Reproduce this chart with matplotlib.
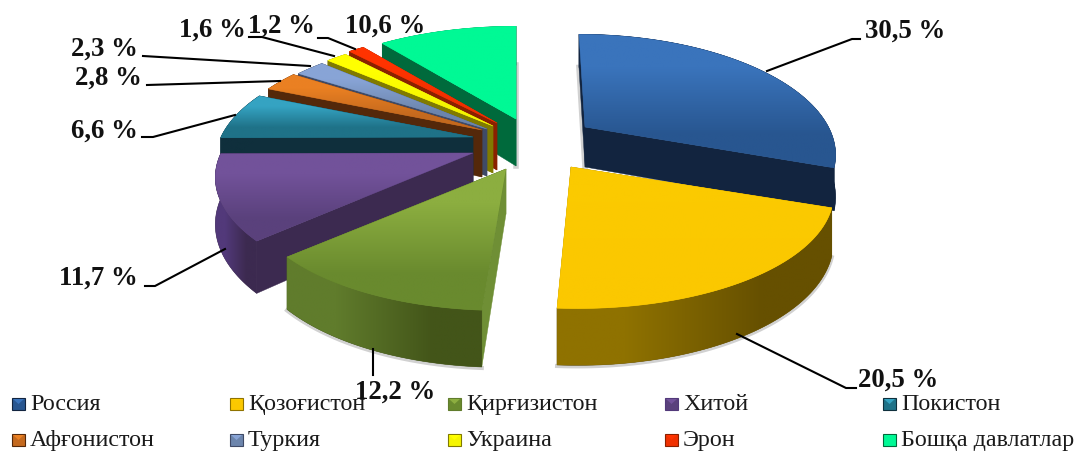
import numpy as np
import matplotlib
matplotlib.use('Agg')
import matplotlib.pyplot as plt
from matplotlib.patches import Polygon, Rectangle
from matplotlib.colors import to_rgb

# Chart data
countries = ['Россия', 'Қозоғистон', 'Қирғизистон', 'Хитой', 'Покистон',
             'Афғонистон', 'Туркия', 'Украина', 'Эрон', 'Бошқа давлатлар']
shares = [30.5, 20.5, 12.2, 11.7, 6.6, 2.8, 2.3, 1.6, 1.2, 10.6]
labels = ['30,5 %', '20,5 %', '12,2 %', '11,7 %', '6,6 %',
          '2,8 %', '2,3 %', '1,6 %', '1,2 %', '10,6 %']

# Styles, top gradient (upper, lower), wall, outer side (left, right)
top_hi = ['#3a74bc', '#fbca00', '#8cae40', '#72529a', '#35a3c2',
          '#ea8022', '#88a4d6', '#ffff00', '#ff3300', '#00f995']
top_lo = ['#285690', '#fbc800', '#698a2e', '#5a417c', '#1f7288',
          '#c4691e', '#6c85ac', '#f5f500', '#f03000', '#00f995']
walls = ['#12243f', '#6a5300', '#6f8f35', '#3c2a50', '#0f2f3c',
         '#54280a', '#3f4a66', '#807a00', '#8a2000', '#006a3c']
side_l = ['#12243f', '#8f7200', '#607c2c', '#52397a', '#0f2f3c',
          '#54280a', '#3f4a66', '#807a00', '#8a2000', '#006a3c']
side_r = ['#12243f', '#665000', '#435519', '#3c2a50', '#0f2f3c',
          '#54280a', '#3f4a66', '#807a00', '#8a2000', '#006a3c']

# Layout in pixels: exploded apex of each slice, drawn back to front
apex_x = [585, 571, 506, 473, 473, 482, 487, 493, 497, 516]
apex_y = [128, 168, 170, 154, 138, 131, 130, 127, 124, 120]
rim_scale = [0.966, 1.015, 1.0, 1.0, 1.0, 1.0, 1.0, 1.0, 1.0, 1.0]
shear = [0.065, 0.045, -0.03, 0.0, 0.0, 0.0, 0.0, 0.0, 0.0, 0.0]
depths = [40, 45, 45, 45, 45, 47, 47, 47, 47, 47]
draw_order = [9, 8, 7, 6, 5, 4, 3, 0, 2, 1]

R_x = 252
R_y = 112
persp = 0.2085

# Leader lines, (x list, y list)
leaders = [([767, 852, 860], [72, 40, 40]),
           ([737, 846, 856], [335, 389, 389]),
           ([373, 373], [350, 376]),
           ([225, 155, 145], [250, 287, 287]),
           ([235, 153, 142], [116, 138, 138]),
           ([280, 147], [82, 86]),
           ([310, 143], [67, 57]),
           ([334, 262, 249], [57, 38, 38]),
           ([355, 328, 318], [50, 39, 39]),
           ]
label_x = [865, 858, 355, 59, 71, 75, 71, 179, 248, 345]
label_y = [31, 380, 392, 278, 131, 78, 49, 30, 26, 26]
legend_x = [12, 230, 448, 665, 883]
legend_y = [405, 441]


def project(i, t):
    # slice rim point with simple perspective, near edge bigger than far edge
    X = np.sin(t)
    Y = -np.cos(t)
    s = 1/(1 - persp*Y)
    dy = R_y*Y*s
    dx = R_x*rim_scale[i]*X*s + shear[i]*dy
    return apex_x[i] + dx, apex_y[i] + dy, depths[i]*s


def gradient_fill(ax, xy, c_a, c_b, zorder, horizontal=False):
    # two colour gradient clipped to a polygon
    xy = np.array(xy)
    poly = Polygon(xy, closed=True, fc=c_b, ec=c_b, lw=0.4, zorder=zorder)
    ax.add_patch(poly)
    if horizontal:
        grad = np.array([[to_rgb(c_a), to_rgb(c_b)]])
    else:
        grad = np.array([[to_rgb(c_a)], [to_rgb(c_b)]])
    im = ax.imshow(grad, extent=(xy[:, 0].min(), xy[:, 0].max(),
                                 xy[:, 1].max(), xy[:, 1].min()),
                   aspect='auto', interpolation='bilinear', zorder=zorder)
    im.set_clip_path(poly)


fig = plt.figure(figsize=(10.77, 4.52), dpi=100)
ax = fig.add_axes([0, 0, 1, 1])

edges = np.cumsum([0] + shares)/100*2*np.pi
halo = (0, 0, 0, 0.18)

z = 2
for i in draw_order:
    t = np.linspace(edges[i], edges[i+1], 60)
    x, y, d = project(i, t)

    # faint shadow under the front rim of yellow and green
    if i in (1, 2):
        ax.plot(x, y+d+1, color=halo, lw=3, zorder=z)
        z += 1
    # and beside the vertical cut of the first and last slice
    if i in (0, 9):
        k = 0 if i == 0 else -1
        ax.plot([x[k], apex_x[i]], [y[k]+d[k], apex_y[i]+depths[i]],
                color=halo, lw=4, zorder=z)
        z += 1

    # walls of the cut, start edge then end edge
    for k in (0, -1):
        wall = [(apex_x[i], apex_y[i]), (x[k], y[k]), (x[k], y[k]+d[k]),
                (apex_x[i], apex_y[i]+depths[i])]
        ax.add_patch(Polygon(wall, closed=True, fc=walls[i], ec=walls[i],
                             lw=0.3, zorder=z))
    z += 1

    # outer side
    side = list(zip(x, y)) + list(zip(x[::-1], (y+d)[::-1]))
    gradient_fill(ax, side, side_l[i], side_r[i], z, horizontal=True)
    z += 1

    # top face
    xy = [(apex_x[i], apex_y[i])] + list(zip(x, y))
    gradient_fill(ax, xy, top_hi[i], top_lo[i], z)
    z += 1

# Leader lines
for lx, ly in leaders:
    ax.plot(lx, ly, color='black', lw=1.5, zorder=z,
            solid_joinstyle='miter')
z += 1

# Legend
for i, name in enumerate(countries):
    row = i//5
    col = i % 5
    mx = legend_x[col]
    my = legend_y[row]
    ax.add_patch(Rectangle((mx, my-6), 13, 12, fc=top_lo[i],
                           ec=side_l[i], lw=0.8, zorder=z))
    ax.add_patch(Polygon([(mx+1, my-5), (mx+12, my-5), (mx+6.5, my)],
                         closed=True, fc=top_hi[i], ec='none', zorder=z))
    ax.text(mx+18, my, name, family='Liberation Serif', fontsize=17.3,
            va='center', ha='left', color='#1a1a1a', zorder=z)
z += 1

# Value labels
for i, lab in enumerate(labels):
    ax.text(label_x[i], label_y[i], lab, family='Liberation Serif',
            fontweight='bold', fontsize=19.3, va='center', ha='left',
            color='#111111', zorder=z)

ax.set_xlim(0, 1077)
ax.set_ylim(452, 0)
ax.axis('off')
fig.savefig('out.png', dpi=100)
